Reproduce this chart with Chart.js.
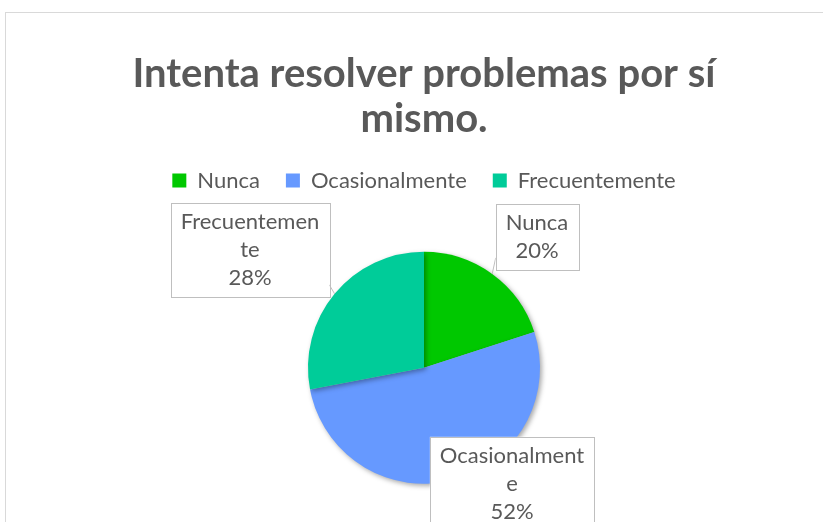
<!DOCTYPE html>
<html>
<head>
<meta charset="utf-8">
<script src="https://cdn.jsdelivr.net/npm/chart.js@4/dist/chart.umd.min.js"></script>
<style>
  html, body { margin: 0; padding: 0; background: #fff; width: 823px; height: 522px; overflow: hidden; }
  #frame { position: absolute; left: 5px; top: 12px; width: 830px; height: 530px; border: 1px solid #d9d9d9; box-sizing: border-box; }
  #wrap { position: absolute; left: 0; top: 0; width: 823px; height: 560px; }
</style>
</head>
<body>
<div id="frame"></div>
<div id="wrap"><canvas id="c" width="823" height="560"></canvas></div>
<script>
const titleLines = ['Intenta resolver problemas por sí', 'mismo.'];
const categories = ['Nunca', 'Ocasionalmente', 'Frecuentemente'];
const percentages = [20, 52, 28];
const sliceColors = ['#00C800', '#6699FF', '#00CC99'];

const FONT = 'Lato, "Open Sans", sans-serif';
const TEXT = '#595959';

// label box placement relative to pie centre (px) and wrapping widths
const labelStyle = [
  { dx: 113, dy: -131, maxW: 150 },
  { dx: 88, dy: 116, maxW: 150 },
  { dx: -174, dy: -118, maxW: 143 }
];

function wrapChars(ctx, text, maxW) {
  const lines = [];
  let cur = '';
  for (const ch of text) {
    if (ctx.measureText(cur + ch).width > maxW && cur) { lines.push(cur); cur = ch; }
    else cur += ch;
  }
  if (cur) lines.push(cur);
  return lines;
}

const shadowPlugin = {
  id: 'pieShadow',
  beforeDatasetsDraw(chart) {
    const ctx = chart.ctx;
    ctx.save();
    ctx.shadowColor = 'rgba(0,0,0,0.35)';
    ctx.shadowBlur = 5;
    ctx.shadowOffsetX = 2;
    ctx.shadowOffsetY = 2;
  },
  afterDatasetsDraw(chart) {
    chart.ctx.restore();
  }
};

const labelPlugin = {
  id: 'boxLabels',
  afterDatasetsDraw(chart) {
    const ctx = chart.ctx;
    const meta = chart.getDatasetMeta(0);
    const fs = 22, lh = 28, padX = 10, padY = 5;
    ctx.save();
    ctx.shadowColor = 'transparent';
    ctx.font = fs + 'px ' + FONT;
    meta.data.forEach((arc, i) => {
      const st = labelStyle[i];
      const cx = arc.x + st.dx, cy = arc.y + st.dy;
      const lines = wrapChars(ctx, categories[i], st.maxW);
      lines.push(percentages[i] + '%');
      let w = 0;
      lines.forEach(l => w = Math.max(w, ctx.measureText(l).width));
      const bw = w + padX * 2, bh = lines.length * lh + padY * 2;
      const x0 = cx - bw / 2, y0 = cy - bh / 2;
      // leader line from slice edge to box
      const mid = (arc.startAngle + arc.endAngle) / 2;
      const ex = arc.x + Math.cos(mid) * arc.outerRadius, ey = arc.y + Math.sin(mid) * arc.outerRadius;
      const inside = ex > x0 && ex < x0 + bw && ey > y0 && ey < y0 + bh;
      ctx.strokeStyle = '#bfbfbf';
      ctx.lineWidth = 1;
      if (!inside) {
        let tx, ty;
        if (ex < x0 || ex > x0 + bw) {
          tx = ex < x0 ? x0 : x0 + bw;
          ty = Math.max(y0 + 12, Math.min(y0 + bh - 12, ey));
        } else {
          ty = ey < y0 ? y0 : y0 + bh;
          tx = Math.max(x0 + 12, Math.min(x0 + bw - 12, ex));
        }
        ctx.beginPath();
        ctx.moveTo(ex, ey);
        ctx.lineTo(tx, ty);
        ctx.stroke();
      }
      ctx.fillStyle = '#ffffff';
      ctx.fillRect(x0, y0, bw, bh);
      ctx.strokeRect(Math.round(x0) + 0.5, Math.round(y0) + 0.5, Math.round(bw), Math.round(bh));
      ctx.fillStyle = TEXT;
      ctx.textAlign = 'center';
      ctx.textBaseline = 'middle';
      lines.forEach((l, k) => ctx.fillText(l, cx, y0 + padY + lh * k + lh / 2));
    });
    ctx.restore();
  }
};

new Chart(document.getElementById('c'), {
  type: 'pie',
  data: {
    labels: categories,
    datasets: [{
      data: percentages,
      backgroundColor: sliceColors,
      borderWidth: 0
    }]
  },
  options: {
    responsive: false,
    animation: false,
    radius: 116,
    layout: { padding: { left: 25, right: 0, top: 0, bottom: 26 } },
    plugins: {
      tooltip: { enabled: false },
      title: {
        display: true,
        text: titleLines,
        color: TEXT,
        font: { family: FONT, size: 40, weight: 'bold', lineHeight: 1.12 },
        padding: { top: 52, bottom: 2 }
      },
      legend: {
        position: 'top',
        labels: {
          color: TEXT,
          font: { family: FONT, size: 22 },
          boxWidth: 14,
          boxHeight: 14,
          padding: 26
        }
      }
    }
  },
  plugins: [shadowPlugin, labelPlugin]
});
</script>
</body>
</html>
